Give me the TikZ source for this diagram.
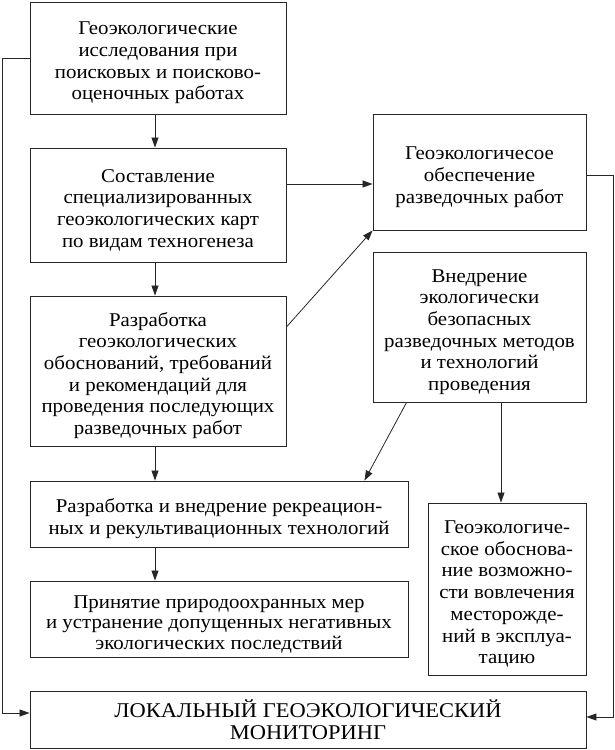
\documentclass[tikz,border=0pt]{standalone}
\usepackage{fontspec}
\setmainfont{Liberation Serif}[FakeStretch=1.07]
\usetikzlibrary{arrows.meta}
\newcommand\topstrut{\rule{0pt}{23pt}}
\begin{document}
\begin{tikzpicture}[x=1pt,y=-1pt,
  box/.style={draw=black!85,line width=0.9pt,rectangle,align=center,inner sep=0pt,
    font=\fontsize{19.5}{21.7}\selectfont},
  capsbox/.style={draw=black!85,line width=0.9pt,rectangle,align=center,inner sep=0pt,
    font=\fontsize{21}{22.5}\selectfont},
  arr/.style={draw=black!85,line width=0.8pt,-{Triangle[length=10pt,width=7pt]}},
  ln/.style={draw=black!85,line width=0.8pt}]
\useasboundingbox (0,0) rectangle (615,750);
\node[box,minimum width=256pt,minimum height=112pt] (A) at (158,58)
  {\topstrut Геоэкологические\\исследования при\\поисковых и поисково-\\оценочных работах};
\node[box,minimum width=256pt,minimum height=114pt] (B) at (158,205)
  {\topstrut Составление\\специализированных\\геоэкологических карт\\по видам техногенеза};
\node[box,minimum width=256pt,minimum height=150pt] (C) at (158,371)
  {\topstrut Разработка\\геоэкологических\\обоснований, требований\\и рекомендаций для\\проведения последующих\\разведочных работ};
\node[box,minimum width=378pt,minimum height=66pt] (D) at (219,514)
  {\topstrut Разработка и внедрение рекреацион-\\ных и рекультивационных технологий};
\node[box,minimum width=378pt,minimum height=76pt,font=\fontsize{19.5}{20.5}\selectfont] (E) at (219,619)
  {\topstrut Принятие природоохранных мер\\и устранение допущенных негативных\\экологических последствий};
\node[capsbox,minimum width=556pt,minimum height=57pt] (F) at (308,719.5)
  {ЛОКАЛЬНЫЙ ГЕОЭКОЛОГИЧЕСКИЙ\\МОНИТОРИНГ};
\node[box,minimum width=213pt,minimum height=116pt] (G) at (479.5,172)
  {\topstrut Геоэкологичесое\\обеспечение\\разведочных работ};
\node[box,minimum width=213pt,minimum height=150pt] (H) at (479.5,327)
  {\topstrut Внедрение\\экологически\\безопасных\\разведочных методов\\и технологий\\проведения};
\node[box,minimum width=158pt,minimum height=172pt] (I) at (507,589)
  {\topstrut Геоэкологиче-\\ское обоснова-\\ние возможно-\\сти вовлечения\\месторожде-\\ний в эксплуа-\\тацию};
% vertical chain
\draw[arr] ([xshift=-3pt]A.south) -- ([xshift=-3pt]B.north);
\draw[arr] ([xshift=-3pt]B.south) -- ([xshift=-3pt]C.north);
\draw[arr] ([xshift=-3pt]C.south) coordinate (c1) -- (c1 |- D.north);
\draw[arr] (c1 |- D.south) coordinate (d1) -- (d1 |- E.north);
% to G
\draw[arr] ([yshift=21pt]B.east) coordinate (b1) -- (b1 -| G.west);
\draw[arr] ([yshift=44pt]C.east) -- (G.south west);
% from H
\draw[arr] ([xshift=34pt]H.south west) -- ([xshift=-44pt]D.north east);
\draw[arr] ([xshift=21.5pt]H.south) coordinate (h1) -- (h1 |- I.north);
% left loop
\draw[ln] (A.west) -- ++(-27,0) coordinate (l1);
\draw[arr] (l1) |- ([yshift=6.5pt]F.west);
% right loop
\draw[ln] ([yshift=-3pt]G.east) -- ++(27,0) coordinate (r1);
\draw[arr] (r1) |- ([yshift=2.5pt]F.east);
\end{tikzpicture}
\end{document}
